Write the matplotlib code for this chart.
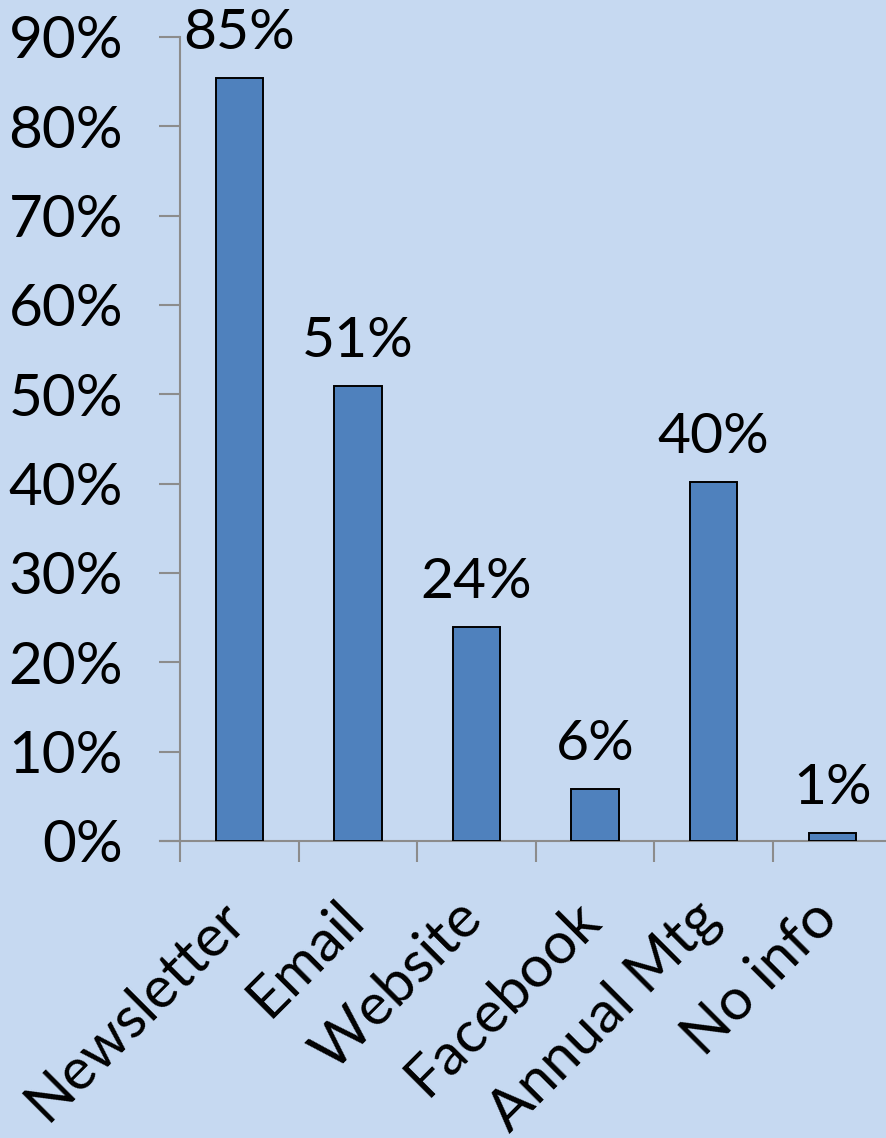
import matplotlib
matplotlib.use("Agg")
import matplotlib.pyplot as plt
from matplotlib.ticker import FuncFormatter, MultipleLocator
from matplotlib.transforms import ScaledTranslation, blended_transform_factory

categories = ["Newsletter", "Email", "Website", "Facebook", "Annual Mtg", "No info"]
values = [0.854, 0.509, 0.239, 0.058, 0.402, 0.009]
value_labels = ["85%", "51%", "24%", "6%", "40%", "1%"]

plt.rcParams['font.family'] = ['Lato', 'DejaVu Sans']
bg = "#C6D9F1"
W, H = 886, 1138
fig = plt.figure(figsize=(W/100, H/100), dpi=100, facecolor=bg)
left = 180 / W
right = (180 + 6 * 118.6) / W
bottom = (H - 841) / H
top = (H - 37) / H
ax = fig.add_axes([left, bottom, right - left, top - bottom], facecolor=bg)

x = list(range(len(categories)))
ax.bar(x, values, width=0.4, color="#4F81BD", edgecolor="black", linewidth=1.4, zorder=3)
ax.set_xlim(-0.5, len(categories) - 0.5)
ax.set_ylim(0, 0.9)
ax.yaxis.set_major_locator(MultipleLocator(0.1))
ax.yaxis.set_major_formatter(FuncFormatter(lambda v, p: f"{v*100:.0f}%"))

for xi, v, lab in zip(x, values, value_labels):
    ax.annotate(lab, (xi, v), xytext=(0, 21), textcoords="offset points",
                ha="center", va="baseline", fontsize=41, color="black", clip_on=False)

ax.set_xticks([i - 0.5 for i in range(len(categories) + 1)])
ax.set_xticklabels([])
base = blended_transform_factory(ax.transData, ax.transAxes)
shift = ScaledTranslation(-22/100, -50/100, fig.dpi_scale_trans)
for xi, cat in zip(x, categories):
    ax.text(xi, 0, cat, transform=base + shift, rotation=45, ha="right", va="top",
            rotation_mode="anchor", fontsize=42, color="black", clip_on=False)

ax.tick_params(axis="x", length=15, width=1.5, color="#8C8C8C", direction="out")
ax.tick_params(axis="y", length=15, width=1.5, color="#8C8C8C", direction="out", labelsize=42, pad=26)
for s in ["top", "right"]:
    ax.spines[s].set_visible(False)
for s in ["left", "bottom"]:
    ax.spines[s].set_color("#8C8C8C")
    ax.spines[s].set_linewidth(1.5)
ax.spines["bottom"].set_bounds(-0.5 - 20/118.6, len(categories) - 0.5)

fig.savefig("out.png", dpi=100, facecolor=bg)
